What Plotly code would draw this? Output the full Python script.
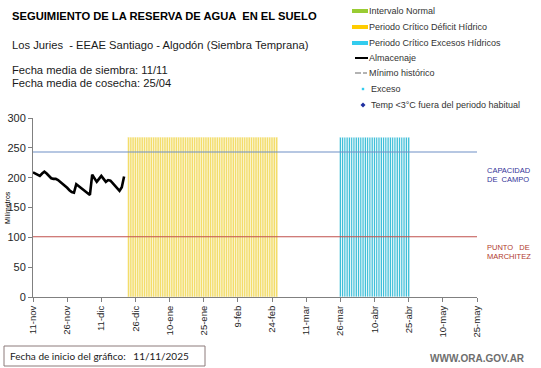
import plotly.graph_objects as go
import pandas as pd

# ---------------- data ----------------
almacenaje_start = "2025-11-11"
almacenaje_mm = [209, 207, 205, 203, 207, 210, 207, 203, 199, 198, 198, 196, 193, 190,
                 187, 183, 179, 176, 175, 189, 186, 183, 180, 177, 174, 171, 205, 199,
                 193, 198, 203, 198, 193, 196, 195, 191, 186, 181, 178, 184, 202]
capacidad_campo_mm = 243
punto_marchitez_mm = 101
deficit_period = ("2025-12-23", "2026-02-26")
excesos_period = ("2026-03-26", "2026-04-25")
period_bar_height_mm = 268
x_start, x_end = "2025-11-11", "2026-05-25"
tick_dates = ["2025-11-11", "2025-11-26", "2025-12-11", "2025-12-26", "2026-01-10",
              "2026-01-25", "2026-02-09", "2026-02-24", "2026-03-11", "2026-03-26",
              "2026-04-10", "2026-04-25", "2026-05-10", "2026-05-25"]
tick_labels = ["11-nov", "26-nov", "11-dic", "26-dic", "10-ene", "25-ene", "9-feb",
               "24-feb", "11-mar", "26-mar", "10-abr", "25-abr", "10-may", "25-may"]
y_ticks = [0, 50, 100, 150, 200, 250, 300]

# ---------------- geometry helpers (pixel -> paper) ----------------
W, H = 541, 368
L, R, T, B = 33, 64, 118, 71
PW, PH = W - L - R, H - T - B


def px(x):
    return (x - L) / PW


def py(y):
    return (H - B - y) / PH


FONT = "Liberation Sans, Arial, sans-serif"
DAY_MS = 86400000

fig = go.Figure()

# period bars (daily stripes)
deficit_days = pd.date_range(*deficit_period, freq="D")
excesos_days = pd.date_range(*excesos_period, freq="D")
fig.add_trace(go.Bar(x=deficit_days, y=[period_bar_height_mm] * len(deficit_days),
                     width=DAY_MS * 1.0,
                     marker=dict(color="#F3DD6A", line=dict(color="#FFFFFF", width=0.5)),
                     showlegend=False, hoverinfo="skip"))
fig.add_trace(go.Bar(x=excesos_days, y=[period_bar_height_mm] * len(excesos_days),
                     width=DAY_MS * 1.0,
                     marker=dict(color="#3EBFD8", line=dict(color="#FFFFFF", width=0.8)),
                     showlegend=False, hoverinfo="skip"))

# reference lines
fig.add_trace(go.Scatter(x=[x_start, x_end], y=[capacidad_campo_mm] * 2, mode="lines",
                         line=dict(color="#6F8FC6", width=1.2), showlegend=False))
fig.add_trace(go.Scatter(x=[x_start, x_end], y=[punto_marchitez_mm] * 2, mode="lines",
                         line=dict(color="#C0504D", width=1.2), showlegend=False))

# almacenaje
alm_dates = pd.date_range(almacenaje_start, periods=len(almacenaje_mm), freq="D")
fig.add_trace(go.Scatter(x=alm_dates, y=almacenaje_mm, mode="lines",
                         line=dict(color="#000000", width=2.6), showlegend=False))

annotations = []
shapes = []


def text(x, y, s, size, color="#1a1a1a", bold=False, anchor="left", family=FONT, angle=0):
    if bold:
        s = "<b>" + s + "</b>"
    annotations.append(dict(x=px(x), y=py(y), xref="paper", yref="paper", text=s,
                            showarrow=False, xanchor=anchor, yanchor="middle",
                            textangle=angle,
                            font=dict(family=family, size=size, color=color)))


# titles
text(10, 16, "SEGUIMIENTO DE LA RESERVA DE AGUA  EN EL SUELO", 11.2, "#000000", bold=True)
text(10, 45, "Los Juries  - EEAE Santiago - Algodón (Siembra Temprana)", 11.2)
text(10, 70, "Fecha media de siembra: 11/11", 11.2)
text(10, 83, "Fecha media de cosecha: 25/04", 11.2)

# y axis title
text(7, 208, "Milímetros", 7, "#000000", anchor="center", angle=-90)

# right side labels
text(485, 170, "CAPACIDAD", 7.5, "#333399")
text(485, 179, "DE  CAMPO", 7.5, "#333399")
text(485, 247, "PUNTO   DE", 7.5, "#B03A2E")
text(485, 256, "MARCHITEZ", 7.5, "#B03A2E")

# legend
leg_text_x = 367
leg_items = [
    (11, "Intervalo Normal", "rect", "#99CC33"),
    (27, "Periodo Crítico Déficit Hídrico", "rect", "#FFCC00"),
    (43, "Periodo Crítico Excesos Hídricos", "rect", "#33CCEE"),
    (58, "Almacenaje", "line", "#000000"),
    (73, "Mínimo histórico", "dash", "#808080"),
    (89, "Exceso", "dot", "#33CCEE"),
    (105, "Temp <3°C fuera del periodo habitual", "diamond", "#1F2FA0"),
]
for y, label, kind, col in leg_items:
    if kind == "rect":
        shapes.append(dict(type="rect", xref="paper", yref="paper", x0=px(352), x1=px(368),
                           y0=py(y + 2), y1=py(y - 2), fillcolor=col, line_width=0))
    elif kind == "line":
        shapes.append(dict(type="line", xref="paper", yref="paper", x0=px(355), x1=px(368),
                           y0=py(y), y1=py(y), line=dict(color=col, width=2)))
    elif kind == "dash":
        shapes.append(dict(type="line", xref="paper", yref="paper", x0=px(355), x1=px(361),
                           y0=py(y), y1=py(y), line=dict(color=col, width=1.2)))
        shapes.append(dict(type="line", xref="paper", yref="paper", x0=px(363), x1=px(367),
                           y0=py(y), y1=py(y), line=dict(color=col, width=1.2)))
    elif kind == "dot":
        shapes.append(dict(type="rect", xref="paper", yref="paper", x0=px(361.8), x1=px(364.2),
                           y0=py(y + 1.2), y1=py(y - 1.2), fillcolor=col, line_width=0))
    elif kind == "diamond":
        cx, cy = px(363), py(y)
        dx, dy = 2.5 / PW, 2.5 / PH
        shapes.append(dict(type="path", xref="paper", yref="paper",
                           path=f"M {cx-dx} {cy} L {cx} {cy+dy} L {cx+dx} {cy} L {cx} {cy-dy} Z",
                           fillcolor=col, line_width=0))
    tx = leg_text_x if kind in ("rect", "line", "dash") else 369
    text(tx, y, label, 9, "#333333")

# bottom box
shapes.append(dict(type="rect", xref="paper", yref="paper", x0=px(4), x1=px(205),
                   y0=py(366), y1=py(346), line=dict(color="#8C7B7B", width=1),
                   fillcolor="rgba(0,0,0,0)"))
text(8, 356, "Fecha de inicio del gráfico:&nbsp;&nbsp; 11/11/2025", 10, "#1a1a1a",
     family="Lato, Open Sans, sans-serif")
text(428, 358, "WWW.ORA.GOV.AR", 10, "#6E6E6E", bold=True)

fig.update_layout(
    width=W, height=H,
    margin=dict(l=L, r=R, t=T, b=B, pad=0, autoexpand=False),
    paper_bgcolor="white", plot_bgcolor="white",
    barmode="overlay",
    showlegend=False,
    annotations=annotations,
    shapes=shapes,
    font=dict(family=FONT),
    xaxis=dict(type="date", range=[x_start, x_end], tickmode="array",
               tickvals=tick_dates, ticktext=tick_labels, tickangle=-90,
               ticks="outside", ticklen=4, tickcolor="#808080",
               showline=True, linecolor="#808080", linewidth=1,
               showgrid=False, zeroline=False, automargin=False,
               tickfont=dict(size=9.5, color="#262626", family=FONT)),
    yaxis=dict(range=[0, 300], tickmode="array", tickvals=y_ticks,
               ticks="outside", ticklen=4, tickcolor="#808080",
               showline=True, linecolor="#808080", linewidth=1,
               showgrid=False, zeroline=False, automargin=False,
               tickfont=dict(size=11, color="#262626", family=FONT)),
)

fig.write_html("out.html", config={"displayModeBar": False},
               post_script="document.body.style.margin='0';document.body.style.overflow='hidden';")
